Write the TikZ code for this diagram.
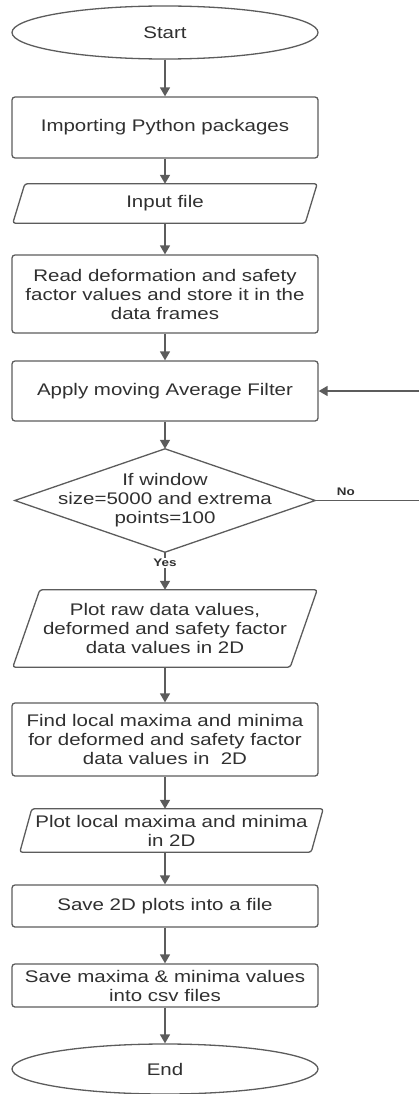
\documentclass[tikz,border=0pt]{standalone}
\usepackage{fontspec}
\setmainfont{Liberation Sans}[FakeStretch=1.22]
\usetikzlibrary{shapes.geometric,arrows.meta,calc}

\definecolor{linegray}{RGB}{92,92,92}
\definecolor{txtgray}{RGB}{48,48,48}
\newcommand\boxfont{\fontsize{16.8}{19}\selectfont}
\newcommand\tagfont{\fontsize{11}{13}\selectfont\bfseries}

% draws a slanted input/output box around a plain node
\newcommand\slanted[2]{%
  \draw[ioedge] ($(#1.north west)+(#2,0)$) -- (#1.north east)
    -- ($(#1.south east)-(#2,0)$) -- (#1.south west) -- cycle;}

\tikzset{
  x=1pt, y=-1pt,
  flowline/.style={draw=linegray, line width=1.6pt,
    -{Triangle[length=9pt,width=10pt]}},
  term/.style={ellipse, draw=linegray, line width=1.3pt, minimum width=306pt,
    inner sep=0pt, text=txtgray, font=\boxfont},
  proc/.style={rectangle, rounded corners=3pt, draw=linegray, line width=1.3pt,
    minimum width=306pt, inner sep=0pt, align=center, text=txtgray, font=\boxfont},
  plain/.style={rectangle, inner sep=0pt, align=center, text=txtgray, font=\boxfont},
  ioedge/.style={draw=linegray, line width=1.3pt, rounded corners=2.5pt},
  tag/.style={text=txtgray, font=\tagfont, inner sep=1pt},
}

\begin{document}
\begin{tikzpicture}
\useasboundingbox (0,0) rectangle (419,1094);
\clip (0,0) rectangle (419,1094);

% terminals and process boxes
\node[term, minimum height=53pt] (start) at (165,32.5) {Start};
\node[proc, minimum height=61pt] (import) at (165,127.5) {Importing Python packages};

\node[plain, minimum width=304pt, minimum height=39pt] (input) at (165,203.5) {Input file};
\slanted{input}{12}

\node[proc, minimum height=78pt] (read) at (165,294)
  {Read deformation and safety\\factor values and store it in the\\data frames};
\node[proc, minimum height=60pt] (filter) at (165,391) {Apply moving Average Filter};

% decision
\node[plain, minimum width=300pt, minimum height=103pt] (dec) at (165,500.5)
  {If window\\size=5000 and extrema\\points=100};
\draw[ioedge, rounded corners=0pt] (dec.north) -- (dec.east) -- (dec.south) -- (dec.west) -- cycle;

\node[plain, minimum width=304pt, minimum height=77pt] (plotraw) at (165,628.5)
  {Plot raw data values,\\deformed and safety factor\\data values in 2D};
\slanted{plotraw}{27}

\node[proc, minimum height=73pt] (find) at (165,739.5)
  {Find local maxima and minima\\for deformed and safety factor\\data values in \ 2D};

\node[plain, minimum width=303pt, minimum height=43pt] (plotloc) at (171.5,830.5)
  {Plot local maxima and minima\\in 2D};
\slanted{plotloc}{12}

\node[proc, minimum height=42pt] (save2d) at (165,906) {Save 2D plots into a file};
\node[proc, minimum height=43pt] (savecsv) at (165,985.5)
  {Save maxima \& minima values\\into csv files};
\node[term, minimum height=50pt] (end) at (165,1069) {End};

% main flow
\draw[flowline] (start) -- (import);
\draw[flowline] (import) -- (input.south |- input.north);
\draw[flowline] (input.south) -- (read);
\draw[flowline] (read) -- (filter);
\draw[flowline] (filter) -- (dec.north);
\draw[flowline] (dec.south) -- node[tag, fill=white, pos=0.29] {Yes} (plotraw.north);
\draw[flowline] (plotraw.south) -- (find);
\draw[flowline] (find.south) -- (find.south |- plotloc.north);
\draw[flowline] (find.south |- plotloc.south) -- (save2d);
\draw[flowline] (save2d) -- (savecsv);
\draw[flowline] (savecsv) -- (end);

% loop back when the condition fails
\coordinate (loopA) at (421,500.5);
\coordinate (loopB) at (421,391);
\draw[flowline] (dec.east) -- node[tag, pos=0.29, above=3pt] {No} (loopA)
  -- (loopB) -- (filter.east);
\end{tikzpicture}
\end{document}
